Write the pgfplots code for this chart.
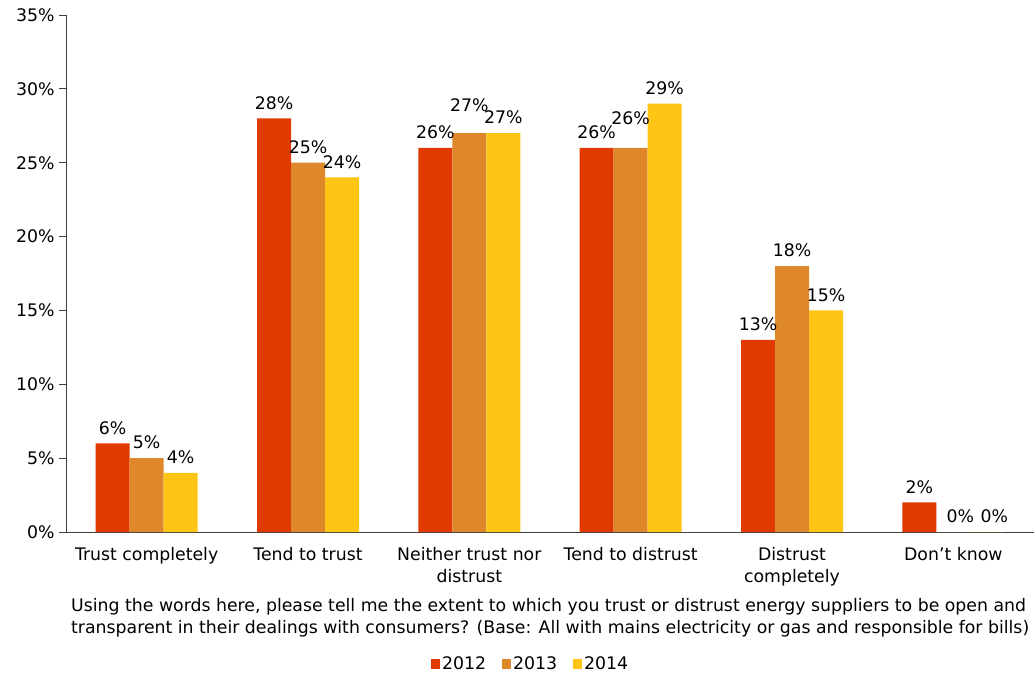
\documentclass[border=0pt]{standalone}
\usepackage{fontspec}
\setmainfont{DejaVu Sans}
\usepackage{pgfplots}
\usepackage{pgfplotstable}
\pgfplotsset{compat=1.18}
\definecolor{c12}{HTML}{E03A00}
\definecolor{c13}{HTML}{DF882B}
\definecolor{c14}{HTML}{FFC515}
\definecolor{axc}{HTML}{404040}
\pgfplotstableread{
x y s h
0 6 0 0
1 28 0 0
2 26 0 0
3 26 0 0
4 13 0 0
5 2 0 0
}\dataA
\pgfplotstableread{
x y s h
0 5 0 0
1 25 0 0
2 27 12 0
3 26 14 0
4 18 0 0
5 0 0 7
}\dataB
\pgfplotstableread{
x y s h
0 4 0 0
1 24 0 0
2 27 0 0
3 29 0 0
4 15 0 0
5 0 0 7
}\dataC
\begin{document}
\begin{tikzpicture}[font=\fontsize{17.3}{22}\selectfont]
\useasboundingbox (0,0) rectangle (1034pt,673pt);
\begin{axis}[
  at={(66pt,141pt)}, anchor=south west,
  scale only axis, width=968pt, height=517pt,
  ybar=0pt, bar width=34pt,
  xmin=-0.5, xmax=5.5, ymin=0, ymax=35,
  axis x line*=bottom, axis y line*=left,
  axis line style={axc, line width=0.8pt},
  xtick={0,1,2,3,4,5},
  xticklabels={Trust completely, Tend to trust, Neither trust nor\\distrust, Tend to distrust, Distrust\\completely, Don’t know},
  xticklabel style={align=center, yshift=-5pt},
  x tick style={draw=none},
  ytick={0,5,...,35},
  yticklabel={\pgfmathprintnumber{\tick}\%},
  /pgf/number format/assume math mode=true,
  y tick style={axc, line width=0.8pt},
  tick align=outside, major tick length=7pt,
  yticklabel style={xshift=-1pt},
  visualization depends on={\thisrow{s} \as \lblshift},
  visualization depends on={\thisrow{h} \as \lblxshift},
  nodes near coords={\pgfmathprintnumber{\pgfplotspointmeta}\%},
  every node near coord/.append style={font=\fontsize{17.3}{20}\selectfont, yshift=5.5pt+\lblshift pt, xshift=\lblxshift pt, black},
  xlabel={Using the words here, please tell me the extent to which you trust or distrust energy suppliers to be open and\\transparent in their dealings with consumers? (Base: All with mains electricity or gas and responsible for bills)},
  xlabel style={align=left, at={(axis description cs:0,0)}, anchor=north west, yshift=-64pt, xshift=3pt, inner sep=2pt},
  legend style={at={(0.48,-0.255)}, anchor=center, draw=none, legend columns=3,
    /tikz/every even column/.append style={column sep=14pt}, font=\fontsize{17.3}{20}\selectfont},
  legend image code/.code={\fill[#1] (2pt,-5pt) rectangle (11pt,5pt);},
  every axis plot/.append style={draw=none},
]
\addplot[fill=c12] table[x=x,y=y] {\dataA};
\addplot[fill=c13] table[x=x,y=y] {\dataB};
\addplot[fill=c14] table[x=x,y=y] {\dataC};
\legend{2012,2013,2014}
\draw[axc, line width=0.8pt] (axis cs:-0.5,0) -- ++(0pt,-108pt);
\end{axis}
\end{tikzpicture}
\end{document}
